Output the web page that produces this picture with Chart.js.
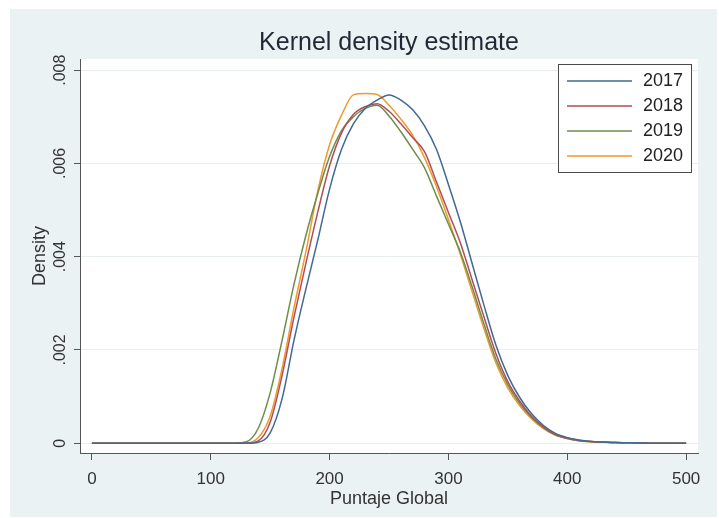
<!DOCTYPE html>
<html>
<head>
<meta charset="utf-8">
<title>Kernel density estimate</title>
<script src="https://cdn.jsdelivr.net/npm/chart.js@4.4.1/dist/chart.umd.min.js"></script>
<style>
    html, body { margin: 0; padding: 0; background: #fff; }
    canvas { display: block; }
</style>
</head>
<body>
<canvas id="myChart" width="719" height="518"></canvas>
<script>
// Puntaje Global (x values of the estimate)
const scores = [
    0, 10, 20, 30, 40, 50, 60, 70, 80, 90,
    100, 110, 120, 130, 140, 150, 160, 170, 180, 190,
    200, 210, 220, 230, 240, 250, 260, 270, 280, 290,
    300, 310, 320, 330, 340, 350, 360, 370, 380, 390,
    400, 410, 420, 430, 440, 450, 460, 470, 480, 490, 500,
];

const years = ['2017', '2018', '2019', '2020'];

const density2017 = [
    0, 0, 0, 0, 0, 0, 0, 0, 0, 0,
    0, 0, 0, 0, 0.00002, 0.00022, 0.00095, 0.0022, 0.0033, 0.00435,
    0.00545, 0.0063, 0.00685, 0.00718, 0.00736, 0.00747, 0.00736, 0.00715, 0.0068, 0.0063,
    0.00555, 0.00475, 0.00385, 0.00295, 0.0021, 0.00145, 0.00098, 0.00063, 0.00038, 0.00021,
    0.00012, 0.00007, 0.000035, 0.000025, 0.000015, 0.00001, 0.000005, 0, 0, 0, 0,
];

const density2018 = [
    0, 0, 0, 0, 0, 0, 0, 0, 0, 0,
    0, 0, 0, 0, 0.00005, 0.00045, 0.00145, 0.0027, 0.00385, 0.00495,
    0.00595, 0.00665, 0.00705, 0.00722, 0.00728, 0.00712, 0.00685, 0.00655, 0.00625, 0.0056,
    0.00495, 0.0043, 0.0035, 0.0027, 0.00192, 0.00132, 0.0009, 0.00058, 0.00035, 0.00019,
    0.00011, 0.00006, 0.000035, 0.000025, 0.000015, 0.00001, 0.000005, 0, 0, 0, 0,
];

const density2019 = [
    0, 0, 0, 0, 0, 0, 0, 0, 0, 0,
    0, 0, 0, 0.00003, 0.00032, 0.00108, 0.0022, 0.0034, 0.00445, 0.00535,
    0.00615, 0.0067, 0.007, 0.00718, 0.00725, 0.00702, 0.00668, 0.0063, 0.0059, 0.0053,
    0.0047, 0.0041, 0.00335, 0.00255, 0.0018, 0.00125, 0.00085, 0.00055, 0.00033, 0.00018,
    0.0001, 0.000055, 0.000035, 0.000025, 0.000015, 0.00001, 0.000005, 0, 0, 0, 0,
];

const density2020 = [
    0, 0, 0, 0, 0, 0, 0, 0, 0, 0,
    0, 0, 0, 0, 0.00012, 0.00058, 0.0016, 0.0029, 0.0041, 0.0054,
    0.0064, 0.00703, 0.00747, 0.0075, 0.00748, 0.00725, 0.00695, 0.0066, 0.00612, 0.0055,
    0.0048, 0.00405, 0.00325, 0.00245, 0.00172, 0.00118, 0.0008, 0.00052, 0.00031, 0.00017,
    0.0001, 0.00005, 0.00003, 0.00002, 0.000015, 0.00001, 0.000005, 0, 0, 0, 0,
];

const xTicks = [0, 100, 200, 300, 400, 500];
const yTicks = [0, 0.002, 0.004, 0.006, 0.008];

const lineColors = ['#3f6a95', '#b24d57', '#6b8f4a', '#f0992c'];

Chart.defaults.font.family = '"Liberation Sans", Arial, sans-serif';

/**
 * Paints the grey outer panel and the white plot region.
 */
const backgroundPlugin = {
    id: 'stataBackground',
    beforeDraw: (chart) => {
        const { ctx, chartArea } = chart;
        ctx.save();
        ctx.fillStyle = '#ffffff';
        ctx.fillRect(0, 0, chart.width, chart.height);
        ctx.fillStyle = '#eaf2f3';
        ctx.fillRect(10, 9, chart.width - 12, chart.height - 10);
        ctx.fillStyle = '#ffffff';
        ctx.fillRect(chartArea.left, chartArea.top, chartArea.right - chartArea.left, chartArea.bottom - chartArea.top);
        ctx.restore();
    },
};

/**
 * Draws the boxed legend in the upper right corner of the plot.
 */
const legendBoxPlugin = {
    id: 'legendBox',
    afterDatasetsDraw: (chart) => {
        const { ctx, chartArea } = chart;
        const boxWidth = 134;
        const boxHeight = 109;
        const left = chartArea.right - 6 - boxWidth;
        const top = chartArea.top + 5;

        ctx.save();
        ctx.fillStyle = '#ffffff';
        ctx.fillRect(left, top, boxWidth, boxHeight);
        ctx.strokeStyle = '#4a4a4a';
        ctx.lineWidth = 1;
        ctx.strokeRect(left + 0.5, top + 0.5, boxWidth - 1, boxHeight - 1);

        ctx.font = '18px "Liberation Sans", Arial, sans-serif';
        ctx.textBaseline = 'middle';
        ctx.textAlign = 'left';

        chart.data.datasets.forEach((dataset, i) => {
            const y = top + 17 + i * 25;
            ctx.strokeStyle = dataset.borderColor;
            ctx.lineWidth = 1.5;
            ctx.beginPath();
            ctx.moveTo(left + 9, y);
            ctx.lineTo(left + 74, y);
            ctx.stroke();
            ctx.fillStyle = '#222222';
            ctx.fillText(dataset.label, left + 85, y);
        });
        ctx.restore();
    },
};

/**
 * Pairs the score grid with one series of densities.
 */
const toPoints = (values) => scores.map((score, i) => ({ x: score, y: values[i] }));

/**
 * Formats density ticks the way Stata does (.002 instead of 0.002).
 */
const formatDensity = (value) => (value === 0 ? '0' : String(value).replace(/^0\./, '.'));

const createChart = () => {
    const seriesList = [density2017, density2018, density2019, density2020];

    const datasets = seriesList.map((values, i) => ({
        label: years[i],
        data: toPoints(values),
        borderColor: lineColors[i],
        backgroundColor: lineColors[i],
        borderWidth: 1.5,
        pointRadius: 0,
        cubicInterpolationMode: 'monotone',
        fill: false,
    }));

    const config = {
        type: 'line',
        data: { datasets: datasets },
        options: {
            responsive: false,
            animation: false,
            layout: {
                padding: { left: 10, top: 9, right: 21, bottom: 1 },
            },
            plugins: {
                legend: { display: false },
                tooltip: { enabled: false },
                title: {
                    display: true,
                    text: 'Kernel density estimate',
                    fullSize: false,
                    color: '#1f2a36',
                    font: { size: 25, weight: 'normal' },
                    padding: { top: 19, bottom: 1 },
                },
            },
            scales: {
                x: {
                    type: 'linear',
                    min: -10,
                    max: 510,
                    afterBuildTicks: (scale) => {
                        scale.ticks = xTicks.map((v) => ({ value: v }));
                    },
                    afterFit: (scale) => {
                        scale.height = 64;
                    },
                    border: { display: true, color: '#555555', width: 1 },
                    grid: {
                        display: true,
                        drawOnChartArea: false,
                        drawTicks: true,
                        tickLength: 7,
                        tickColor: '#555555',
                    },
                    ticks: {
                        color: '#333333',
                        font: { size: 17 },
                        padding: 9,
                        maxRotation: 0,
                        autoSkip: false,
                    },
                    title: {
                        display: true,
                        text: 'Puntaje Global',
                        color: '#333333',
                        font: { size: 18 },
                        padding: { top: 0, bottom: 7 },
                    },
                },
                y: {
                    type: 'linear',
                    min: -0.00021,
                    max: 0.00824,
                    afterBuildTicks: (scale) => {
                        scale.ticks = yTicks.map((v) => ({ value: v }));
                    },
                    afterFit: (scale) => {
                        scale.width = 70;
                    },
                    border: { display: true, color: '#555555', width: 1 },
                    grid: {
                        color: '#e8eef0',
                        lineWidth: 1,
                        drawTicks: true,
                        tickLength: 6,
                        tickColor: '#555555',
                    },
                    ticks: {
                        color: '#333333',
                        font: { size: 16 },
                        minRotation: 90,
                        maxRotation: 90,
                        crossAlign: 'center',
                        padding: -2,
                        autoSkip: false,
                        callback: (value) => formatDensity(value),
                    },
                    title: {
                        display: true,
                        text: 'Density',
                        color: '#333333',
                        font: { size: 18 },
                        padding: { top: 19, bottom: 0 },
                    },
                },
            },
        },
        plugins: [backgroundPlugin, legendBoxPlugin],
    };

    return new Chart(document.getElementById('myChart'), config);
};

createChart();
</script>
</body>
</html>
